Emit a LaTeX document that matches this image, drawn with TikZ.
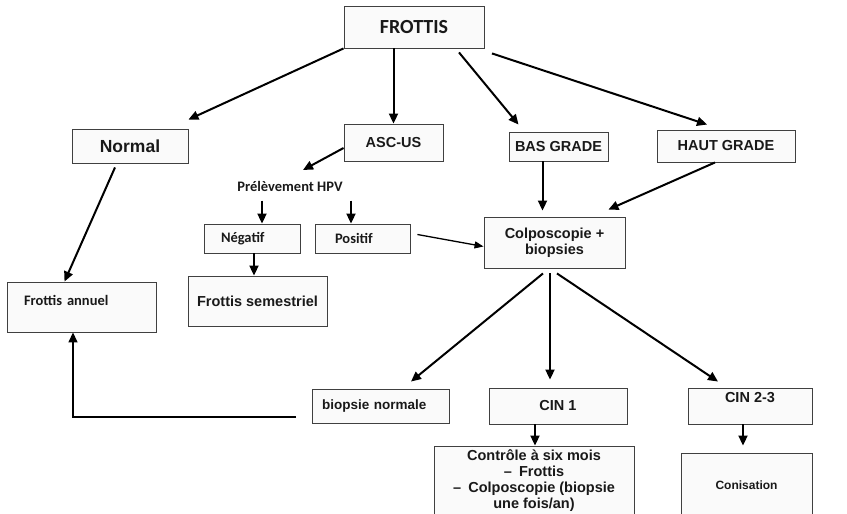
\documentclass[tikz,border=0pt]{standalone}
\usepackage{fontspec}
\setmainfont{Liberation Sans}
\newfontfamily\calibri{Carlito}
\usetikzlibrary{arrows.meta}

\begin{document}
\begin{tikzpicture}[x=1pt,y=-1pt,
  box/.style 2 args={draw=black!75, fill=black!2, line width=0.9pt, inner sep=0pt,
    minimum width=#1, minimum height=#2, text=black!90, align=center,
    font=\bfseries\fontsize{14.5}{16}\selectfont},
  arr/.style={-{Triangle[length=10pt,width=9pt]}, line width=2pt},
  thinarr/.style={-{Triangle[length=9pt,width=7pt]}, line width=1.3pt}]
\useasboundingbox (0,0) rectangle (847,514);

% boites
\node[box={140pt}{42pt}, font=\calibri\bfseries\fontsize{20}{22}\selectfont] (frottis) at (414,27) {FROTTIS};
\node[box={116pt}{34pt}, font=\bfseries\fontsize{17.5}{20}\selectfont] (normal) at (130,146) {Normal};
\node[box={99pt}{37pt}] (ascus) at (393.5,142.5) {ASC-US};
\node[box={99pt}{29pt}] (basgrade) at (558.5,146.5) {BAS GRADE};
\node[box={138pt}{32pt}] (hautgrade) at (726,146) {HAUT GRADE};
\node[text=black!90, font=\calibri\bfseries\fontsize{14.5}{16}\selectfont] (hpv) at (290,186) {Prélèvement HPV};
\node[box={96pt}{29pt}, text width=62pt, align=left, font=\calibri\bfseries\fontsize{14.5}{16}\selectfont] (negatif) at (252,238.5) {Négatif};
\node[box={95pt}{29pt}, text width=55pt, align=left, font=\calibri\bfseries\fontsize{14.5}{16}\selectfont] (positif) at (362.5,238.5) {Positif};
\node[box={139pt}{50pt}] (semestriel) at (257.5,301) {Frottis semestriel};
\node[box={149pt}{50pt}, text width=115pt, text depth=14pt, align=left, font=\calibri\bfseries\fontsize{14.5}{16}\selectfont] (annuel) at (81.5,307) {Frottis annuel};
\node[box={141pt}{51pt}] (colpo) at (554.5,242.5) {Colposcopie +\\biopsies};
\node[box={137pt}{34pt}, text width=117pt, align=left, font=\bfseries\fontsize{13.5}{16}\selectfont] (bionorm) at (380.5,406) {biopsie normale};
\node[box={138pt}{36pt}] (cin1) at (558,406) {CIN 1};
\node[box={124pt}{36pt}, text depth=18pt] (cin23) at (750,406) {CIN 2-3};
\node[box={200pt}{70pt}] (controle) at (534,481) {Contrôle à six mois\\–\enspace Frottis\\–\enspace Colposcopie (biopsie\\une fois/an)};
\node[box={131pt}{64pt}, font=\bfseries\fontsize{12}{14}\selectfont] (conisation) at (746.5,485) {Conisation};

% fleches
\draw[arr] (frottis.south west) -- ([yshift=9pt]normal.north east);
\draw[arr] (frottis.south -| ascus.north) -- (ascus.north);
\draw[arr] ([shift={(45pt,-4pt)}]frottis.south) -- ([shift={(-40pt,7pt)}]basgrade.north);
\draw[arr] ([shift={(78pt,-5pt)}]frottis.south) -- ([shift={(-19pt,5pt)}]hautgrade.north);
\draw[arr] ([yshift=-5.5pt]ascus.west) -- ([shift={(13pt,16pt)}]hpv.center);
\draw[arr] ([shift={(-28pt,-6pt)}]hpv.south) -- ([xshift=-28pt]hpv.south |- negatif.north);
\draw[arr] ([shift={(61pt,-6pt)}]hpv.south) -- ([xshift=61pt]hpv.south |- positif.north);
\draw[arr] ([xshift=2pt]negatif.south) -- ([xshift=2pt]negatif.south |- semestriel.north);
\draw[arr] ([shift={(-15pt,-4pt)}]normal.south) -- ([xshift=-17pt]annuel.north);
\draw[thinarr] ([shift={(7pt,4pt)}]positif.east) -- ([yshift=-4pt]colpo.west);
\draw[arr, shorten >=6pt] ([xshift=-16pt]basgrade.south) -- ([xshift=-16pt]basgrade.south |- colpo.north);
\draw[arr] ([xshift=-11pt]hautgrade.south) -- ([shift={(-17pt,7pt)}]colpo.north east);
\draw[arr] ([shift={(-11.5pt,-5pt)}]colpo.south) -- ([shift={(30.5pt,7pt)}]bionorm.north);
\draw[arr, shorten >=8pt] ([shift={(-4.5pt,-5pt)}]colpo.south) -- ([xshift=-4.5pt]colpo.south |- cin1.north);
\draw[arr] ([shift={(2.5pt,-5pt)}]colpo.south) -- ([shift={(-32pt,6pt)}]cin23.north);
\draw[arr] ([xshift=-23pt]cin1.south) -- ([xshift=-23pt]cin1.south |- controle.north);
\draw[arr, shorten >=7pt] ([xshift=-7pt]cin23.south) -- ([xshift=-7pt]cin23.south |- conisation.north);
\coordinate (ret) at (296,417);
\draw[arr, line width=1.5pt] (ret) -| ([xshift=-8.5pt]annuel.south);
\end{tikzpicture}
\end{document}
